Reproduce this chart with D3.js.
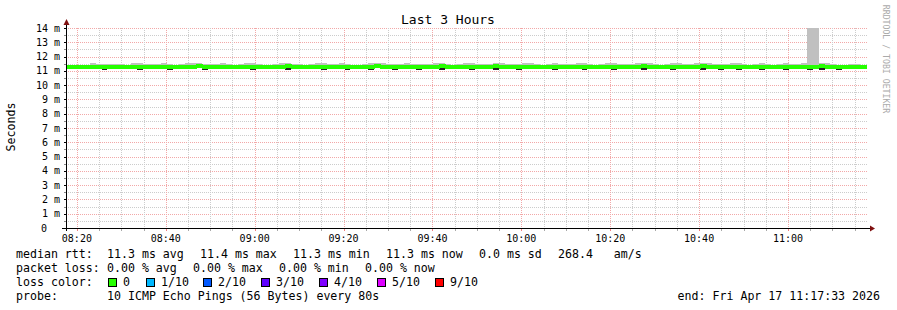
<!DOCTYPE html>
<html>
<head>
<meta charset="utf-8">
<script src="https://cdn.jsdelivr.net/npm/d3@7"></script>
<style>
    body { margin: 0; background: #fff; }
    svg text { font-family: 'DejaVu Sans Mono', monospace; white-space: pre; }
</style>
</head>
<body>
<svg id="chart" width="897" height="310"></svg>
<script>
const endTime = new Date(2026, 3, 17, 11, 17, 33);
const stepSeconds = 80;

// median rtt per 80s step, ms
const median = [
    11.26, 11.25, 11.25, 11.25, 11.26, 11.29, 11.28, 11.30, 11.29, 11.28, 11.26, 11.28, 11.30, 11.28, 11.29,
    11.30, 11.30, 11.29, 11.27, 11.28, 11.30, 11.30, 11.31, 11.30, 11.28, 11.29, 11.30, 11.29, 11.27, 11.28,
    11.30, 11.30, 11.28, 11.26, 11.26, 11.28, 11.30, 11.31, 11.29, 11.28, 11.26, 11.27, 11.30, 11.30, 11.28,
    11.29, 11.30, 11.29, 11.27, 11.26, 11.28, 11.30, 11.31, 11.30, 11.28, 11.27, 11.29, 11.30, 11.30, 11.28,
    11.27, 11.29, 11.30, 11.31, 11.28, 11.26, 11.27, 11.30, 11.30, 11.29, 11.27, 11.29, 11.31, 11.30, 11.28,
    11.27, 11.29, 11.30, 11.30, 11.28, 11.26, 11.27, 11.30, 11.29, 11.27, 11.28, 11.30, 11.30, 11.28, 11.26,
    11.27, 11.30, 11.30, 11.29, 11.27, 11.28, 11.30, 11.31, 11.30, 11.28, 11.27, 11.27, 11.30, 11.30, 11.28,
    11.28, 11.30, 11.31, 11.30, 11.28, 11.27, 11.28, 11.30, 11.30, 11.28, 11.27, 11.29, 11.30, 11.28, 11.27,
    11.28, 11.30, 11.27, 11.28, 11.30, 11.29, 11.30, 11.31, 11.30, 11.28, 11.27, 11.26, 11.27, 11.28, 11.27
];

// slowest ping per step (top of the smoke)
const maxPing = [
    11.41, 11.40, 11.40, 11.42, 11.52, 11.51, 11.45, 11.51, 11.47, 11.46, 11.43, 11.52, 11.54, 11.47, 11.48,
    11.51, 11.53, 11.47, 11.43, 11.49, 11.54, 11.53, 11.52, 11.49, 11.45, 11.50, 11.53, 11.48, 11.44, 11.49,
    11.52, 11.54, 11.47, 11.42, 11.42, 11.49, 11.53, 11.57, 11.50, 11.47, 11.43, 11.47, 11.52, 11.53, 11.48,
    11.50, 11.53, 11.49, 11.44, 11.42, 11.47, 11.53, 11.55, 11.52, 11.47, 11.45, 11.50, 11.53, 11.51, 11.47,
    11.45, 11.49, 11.53, 11.55, 11.48, 11.42, 11.45, 11.52, 11.53, 11.49, 11.45, 11.51, 11.54, 11.52, 11.47,
    11.45, 11.49, 11.52, 11.53, 11.47, 11.42, 11.45, 11.54, 11.50, 11.45, 11.47, 11.53, 11.52, 11.47, 11.42,
    11.45, 11.53, 11.52, 11.49, 11.45, 11.48, 11.53, 11.55, 11.52, 11.47, 11.44, 11.45, 11.52, 11.53, 11.47,
    11.47, 11.53, 11.55, 11.52, 11.47, 11.45, 11.48, 11.52, 11.53, 11.47, 11.44, 11.51, 11.54, 11.47, 11.44,
    11.47, 11.53, 11.45, 11.47, 11.52, 24.80, 21.30, 11.54, 11.52, 11.47, 11.44, 11.42, 11.45, 11.47, 11.43
];

// fastest ping per step (bottom of the smoke)
const minPing = [
    11.20, 11.19, 11.20, 11.20, 11.21, 11.24, 11.04, 11.25, 11.24, 11.22, 11.20, 11.23, 11.06, 11.23, 11.24,
    11.25, 11.24, 11.05, 11.22, 11.23, 11.25, 11.25, 11.26, 11.06, 11.23, 11.24, 11.25, 11.24, 11.21, 11.23,
    11.25, 11.06, 11.23, 11.21, 11.20, 11.23, 11.25, 11.07, 11.24, 11.22, 11.20, 11.22, 11.25, 11.06, 11.23,
    11.24, 11.25, 11.05, 11.22, 11.21, 11.23, 11.06, 11.26, 11.25, 11.23, 11.03, 11.24, 11.25, 11.25, 11.04,
    11.22, 11.24, 11.25, 11.07, 11.23, 11.20, 11.22, 11.25, 11.06, 11.24, 11.22, 11.24, 11.07, 11.25, 11.23,
    11.22, 11.05, 11.25, 11.25, 11.23, 11.20, 11.22, 11.06, 11.24, 11.22, 11.23, 11.25, 11.06, 11.23, 11.21,
    11.22, 11.25, 11.06, 11.24, 11.22, 11.23, 11.25, 11.07, 11.25, 11.23, 11.21, 11.22, 11.06, 11.25, 11.23,
    11.23, 11.25, 11.07, 11.25, 11.23, 11.03, 11.23, 11.25, 11.06, 11.23, 11.22, 11.24, 11.06, 11.23, 11.22,
    11.23, 11.06, 11.22, 11.23, 11.25, 11.05, 11.25, 11.07, 11.25, 11.23, 11.03, 11.20, 11.22, 11.23, 11.21
];

const lossLabels = ['0', '1/10', '2/10', '3/10', '4/10', '5/10', '9/10'];
const lossColors = ['#26ff00', '#00b8ff', '#0059ff', '#5e00ff', '#7e00ff', '#dd00ff', '#ff0000'];
const rttStats = ['11.3 ms avg', '11.4 ms max', '11.3 ms min', '11.3 ms now', '0.0 ms sd', '268.4   am/s'];
const lossStats = ['0.00 % avg', '0.00 % max', '0.00 % min', '0.00 % now'];
const probeText = '10 ICMP Echo Pings (56 Bytes) every 80s';
const endText = 'end: Fri Apr 17 11:17:33 2026';

const svg = d3.select('#chart');
const plotLeft = 66, plotRight = 866, plotTop = 28, plotBottom = 228;
const startTime = d3.timeHour.offset(endTime, -3);

const x = d3.scaleTime().domain([startTime, endTime]).range([plotLeft, plotRight]);
const y = d3.scaleLinear().domain([0, 14]).range([plotBottom, plotTop]);
const yc = v => y(Math.min(v, 14));
const medianHalf = 0.14;

svg.append('rect').attr('width', 897).attr('height', 310).attr('fill', '#fff');

// grid
const minorTimes = x.ticks(d3.timeMinute.every(5));
const majorTimes = x.ticks(d3.timeMinute.every(20));
const isMajorTime = t => t.getMinutes() % 20 === 0;
const yTicks = d3.range(0, 14.01, 0.5);

const grid = svg.append('g')
    .attr('shape-rendering', 'crispEdges')
    .attr('stroke-dasharray', '1,1');
grid.selectAll('line.hgrid')
    .data(yTicks.filter(d => d > 0))
    .join('line')
    .attr('x1', plotLeft).attr('x2', plotRight + 1)
    .attr('y1', d => Math.round(y(d)) + 0.5)
    .attr('y2', d => Math.round(y(d)) + 0.5)
    .attr('stroke', d => d % 1 === 0 ? '#f2a8a8' : '#cccccc');
grid.selectAll('line.vgrid')
    .data(minorTimes)
    .join('line')
    .attr('x1', d => Math.round(x(d)) + 0.5)
    .attr('x2', d => Math.round(x(d)) + 0.5)
    .attr('y1', plotTop).attr('y2', plotBottom)
    .attr('stroke', d => isMajorTime(d) ? '#f2a8a8' : '#cccccc');

// smoke + median band
const steps = median.map((m, i) => ({
    t0: d3.timeSecond.offset(startTime, i * stepSeconds),
    t1: d3.timeSecond.offset(startTime, (i + 1) * stepSeconds),
    median: m,
    max: maxPing[i],
    min: minPing[i]
}));

const data = svg.append('g').attr('shape-rendering', 'crispEdges');
data.selectAll('rect.smokeUp')
    .data(steps)
    .join('rect')
    .attr('x', d => x(d.t0))
    .attr('width', d => x(d.t1) - x(d.t0))
    .attr('y', d => yc(d.max))
    .attr('height', d => y(d.median) - yc(d.max))
    .attr('fill', '#c0c0c0');
data.selectAll('rect.smokeDown')
    .data(steps)
    .join('rect')
    .attr('x', d => x(d.t0))
    .attr('width', d => x(d.t1) - x(d.t0))
    .attr('y', d => y(d.median))
    .attr('height', d => y(d.min) - y(d.median))
    .attr('fill', '#222');
data.selectAll('rect.median')
    .data(steps)
    .join('rect')
    .attr('x', d => x(d.t0))
    .attr('width', d => x(d.t1) - x(d.t0) + 0.5)
    .attr('y', d => y(d.median + medianHalf))
    .attr('height', d => y(d.median - medianHalf) - y(d.median + medianHalf))
    .attr('fill', lossColors[0]);

// axes
const axes = svg.append('g').attr('shape-rendering', 'crispEdges');
axes.append('line')
    .attr('x1', plotLeft + 0.5).attr('x2', plotLeft + 0.5)
    .attr('y1', plotBottom + 3).attr('y2', plotTop - 4)
    .attr('stroke', '#000');
axes.append('line')
    .attr('x1', plotLeft - 4).attr('x2', plotRight + 4)
    .attr('y1', plotBottom + 0.5).attr('y2', plotBottom + 0.5)
    .attr('stroke', '#000');
axes.selectAll('line.ytick')
    .data(yTicks)
    .join('line')
    .attr('x1', plotLeft - 2).attr('x2', plotLeft)
    .attr('y1', d => Math.round(y(d)) + 0.5)
    .attr('y2', d => Math.round(y(d)) + 0.5)
    .attr('stroke', d => d % 1 === 0 ? '#000' : '#888');
axes.selectAll('line.xtick')
    .data(minorTimes)
    .join('line')
    .attr('x1', d => Math.round(x(d)) + 0.5)
    .attr('x2', d => Math.round(x(d)) + 0.5)
    .attr('y1', plotBottom + 1).attr('y2', plotBottom + 3)
    .attr('stroke', d => isMajorTime(d) ? '#f08080' : '#aaa');

svg.append('path')
    .attr('d', `M${plotLeft - 2.5},${plotTop - 3} L${plotLeft + 3.5},${plotTop - 3} L${plotLeft + 0.5},${plotTop - 9} Z`)
    .attr('fill', '#7f1010');
svg.append('path')
    .attr('d', `M${plotRight + 4},${plotBottom - 2.5} L${plotRight + 4},${plotBottom + 3.5} L${plotRight + 9},${plotBottom + 0.5} Z`)
    .attr('fill', '#7f1010');

svg.selectAll('text.ylabel')
    .data(d3.range(0, 15))
    .join('text')
    .attr('x', d => d === 0 ? 47 : 60)
    .attr('y', d => y(d) + 3.5)
    .attr('text-anchor', 'end')
    .attr('font-size', 10)
    .text(d => d === 0 ? '0' : `${d} m`);

svg.selectAll('text.xlabel')
    .data(majorTimes)
    .join('text')
    .attr('x', d => x(d))
    .attr('y', 241.5)
    .attr('text-anchor', 'middle')
    .attr('font-size', 10)
    .text(d3.timeFormat('%H:%M'));

svg.append('text')
    .attr('transform', 'translate(15,127) rotate(-90)')
    .attr('text-anchor', 'middle')
    .attr('font-size', 11.6)
    .text('Seconds');

svg.append('text')
    .attr('x', 448)
    .attr('y', 24)
    .attr('text-anchor', 'middle')
    .attr('font-size', 13)
    .text('Last 3 Hours');

svg.append('text')
    .attr('transform', 'translate(883,59) rotate(90)')
    .attr('text-anchor', 'middle')
    .attr('font-size', 8.2)
    .attr('fill', '#aaa')
    .text('RRDTOOL / TOBI OETIKER');

// legend
const legend = svg.append('g').attr('font-size', 11.6).attr('fill', '#000');
const rowY = [258, 272, 286, 300];
legend.append('text').attr('x', 16).attr('y', rowY[0]).text('median rtt:');
legend.selectAll('text.rtt')
    .data(rttStats)
    .join('text')
    .attr('x', (d, i) => [107, 200, 293, 386, 479, 558][i])
    .attr('y', rowY[0])
    .text(d => d);
legend.append('text').attr('x', 16).attr('y', rowY[1]).text('packet loss:');
legend.selectAll('text.loss')
    .data(lossStats)
    .join('text')
    .attr('x', (d, i) => 107 + i * 86)
    .attr('y', rowY[1])
    .text(d => d);
legend.append('text').attr('x', 16).attr('y', rowY[2]).text('loss color:');
const boxX = [108, 146, 203, 261, 319, 377, 435];
legend.selectAll('rect.swatch')
    .data(lossColors)
    .join('rect')
    .attr('x', (d, i) => boxX[i] + 0.5)
    .attr('y', 278.5)
    .attr('width', 8)
    .attr('height', 8)
    .attr('fill', d => d)
    .attr('stroke', '#000')
    .attr('shape-rendering', 'crispEdges');
legend.selectAll('text.swatchLabel')
    .data(lossLabels)
    .join('text')
    .attr('x', (d, i) => boxX[i] + 15)
    .attr('y', rowY[2])
    .text(d => d);
legend.append('text').attr('x', 16).attr('y', rowY[3]).text('probe:');
legend.append('text').attr('x', 107).attr('y', rowY[3]).text(probeText);
legend.append('text').attr('x', 880).attr('y', rowY[3]).attr('text-anchor', 'end').text(endText);
</script>
</body>
</html>
